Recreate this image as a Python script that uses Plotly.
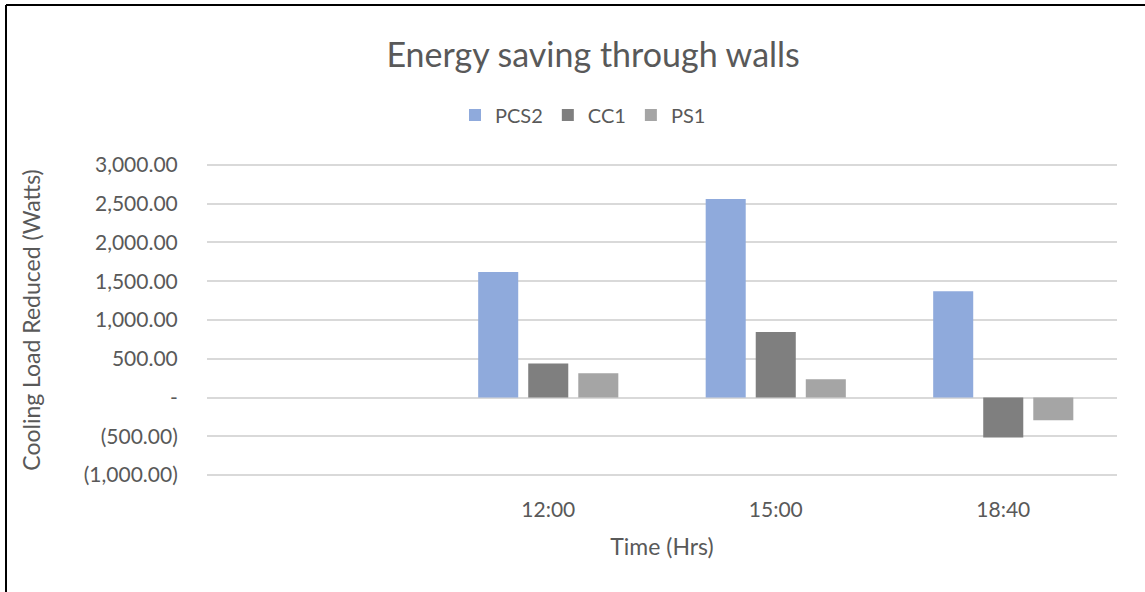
import plotly.graph_objects as go

categories = [" ", "12:00", "15:00", "18:40"]
pcs2 = [None, 1620, 2560, 1370]
cc1 = [None, 438, 846, -515]
ps1 = [None, 313, 236, -293]

y_tickvals = [-1000, -500, 0, 500, 1000, 1500, 2000, 2500, 3000]
y_ticktext = ["(1,000.00)", "(500.00)", "-", "500.00", "1,000.00", "1,500.00",
              "2,000.00", "2,500.00", "3,000.00"]

FONT = "Lato"
TXT = "#595959"

# plot area: top 163, bottom 477 (px), height 314
PB, PH = 477, 314

fig = go.Figure()
for name, vals, col in [("PCS2", pcs2, "#8FAADC"), ("CC1", cc1, "#7F7F7F"), ("PS1", ps1, "#A5A5A5")]:
    fig.add_trace(go.Bar(x=categories, y=vals, name=name, marker=dict(color=col, line=dict(width=0))))

fig.update_layout(
    width=1145, height=592,
    margin=dict(l=207, r=28, t=163, b=115),
    paper_bgcolor="white", plot_bgcolor="white",
    barmode="group", bargap=0.34, bargroupgap=0.2,
    font=dict(family=FONT, color=TXT, size=21),
    title=dict(text="Energy saving through walls", x=0.518, xanchor="center",
               y=1 - 55 / 592, yanchor="middle",
               font=dict(size=34, color=TXT, family=FONT)),
    legend=dict(orientation="h", x=(583 - 207) / 910, xanchor="center", y=(PB - 115) / PH, yanchor="middle",
                font=dict(size=20, color=TXT), itemwidth=30, traceorder="normal"),
    showlegend=True,
)
fig.update_xaxes(type="category", categoryorder="array", categoryarray=categories,
                 showgrid=False, showline=False, zeroline=False, automargin=False,
                 ticks="outside", ticklen=14, tickcolor="rgba(0,0,0,0)",
                 tickfont=dict(size=21, color=TXT),
                 title=dict(text="Time (Hrs)", font=dict(size=23, color=TXT), standoff=18))
fig.update_yaxes(range=[-1025, 3025], tickvals=y_tickvals, ticktext=y_ticktext,
                 showgrid=True, gridcolor="#D9D9D9", gridwidth=1.5, automargin=False,
                 zeroline=True, zerolinecolor="#D9D9D9", zerolinewidth=1.5,
                 showline=False, ticks="outside", ticklen=24, tickcolor="rgba(0,0,0,0)",
                 tickfont=dict(size=21, color=TXT),
                 title=dict(text="Cooling Load Reduced (Watts)", font=dict(size=23, color=TXT), standoff=36))

# outer chart border (top and left edges)
fig.add_shape(type="line", xref="paper", yref="paper", x0=(6 - 207) / 910, x1=(1145 - 207) / 910,
              y0=(PB - 5) / PH, y1=(PB - 5) / PH, line=dict(color="black", width=2))
fig.add_shape(type="line", xref="paper", yref="paper", x0=(6 - 207) / 910, x1=(6 - 207) / 910,
              y0=(PB - 5) / PH, y1=(PB - 592) / PH, line=dict(color="black", width=2))

fig.write_html("out.html", config={"displayModeBar": False},
               post_script="document.body.style.margin='0';")
